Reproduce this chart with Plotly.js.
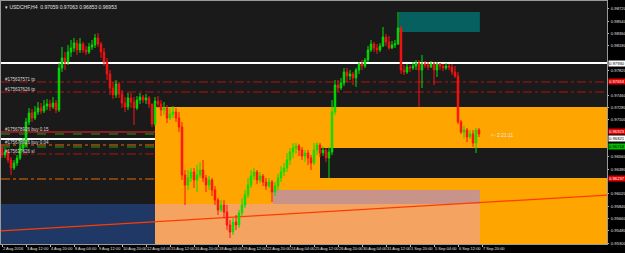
<!DOCTYPE html>
<html>
<head>
<meta charset="utf-8">
<script src="https://cdn.plot.ly/plotly-3.0.1.min.js"></script>
<style>html,body{margin:0;padding:0;background:#000;}#chart{width:625px;height:253px;}</style>
</head>
<body>
<div id="chart"></div>
<script>
// ---- data (USDCHF, H4) ----
const firstOpen = 0.96689;
const closes = [.96587,.96631,.96514,.96397,.96470,.96543,.96689,.96733,.97069,.97200,
 .97127,.97215,.97273,.97229,.97302,.97332,.97288,.97346,.97244,.97857,
 .98003,.97945,.98091,.98149,.98222,.98120,.98208,.98120,.98091,.98164,
 .98193,.98295,.98208,.98091,.97945,.97770,.97565,.97463,.97624,.97478,
 .97346,.97288,.97419,.97361,.97273,.97390,.97434,.97390,.97419,.97332,
 .97040,.97375,.97332,.97244,.97273,.97127,.97186,.97215,.97127,.96996,
 .96295,.96149,.96251,.96339,.96222,.96295,.96368,.96251,.96149,.96222,
 .96076,.95930,.95784,.95857,.95755,.95565,.95463,.95609,.95565,.95740,
 .95857,.96003,.96149,.96280,.96339,.96222,.96280,.96193,.96134,.96193,
 .96047,.96134,.96251,.96339,.96397,.96514,.96631,.96689,.96718,.96660,
 .96572,.96616,.96543,.96470,.96660,.96733,.96616,.96660,.96543,.96631,
 .97215,.97609,.97565,.97638,.97799,.97740,.97770,.97711,.97828,.97916,
 .97886,.97974,.98120,.98208,.98149,.98120,.98178,.98310,.98237,.98149,
 .98193,.98208,.98441,.97828,.97799,.97872,.97857,.97886,.97930,.97828,
 .97916,.97901,.97872,.97916,.97828,.97916,.97886,.97857,.97886,.97872,
 .97799,.97740,.97069,.96923,.96952,.96850,.96894,.96762,.96952,.96894];
const highs = [.96733,.96689,.96660,.96558,.96514,.96587,.96806,.96835,.97127,.97273,
 .97259,.97302,.97361,.97346,.97390,.97405,.97390,.97434,.97390,.97930,
 .98164,.98091,.98193,.98266,.98295,.98266,.98295,.98237,.98178,.98222,
 .98266,.98354,.98368,.98237,.98149,.98003,.97828,.97653,.97682,.97653,
 .97536,.97434,.97492,.97492,.97434,.97448,.97492,.97463,.97478,.97448,
 .97332,.97434,.97448,.97390,.97361,.97317,.97273,.97302,.97273,.97215,
 .97069,.96368,.96368,.96397,.96397,.96441,.96485,.96514,.96295,.96280,
 .96251,.96134,.95959,.95930,.95930,.95857,.95638,.95667,.95711,.95784,
 .95959,.96076,.96251,.96368,.96397,.96368,.96339,.96310,.96251,.96251,
 .96222,.96193,.96310,.96426,.96470,.96616,.96689,.96762,.96762,.96748,
 .96704,.96660,.96660,.96587,.96762,.96777,.96762,.96718,.96689,.96704,
 .97390,.97682,.97682,.97711,.97857,.97857,.97828,.97799,.97857,.97945,
 .97974,.98003,.98178,.98266,.98237,.98208,.98222,.98456,.98354,.98324,
 .98251,.98266,.98675,.98470,.97901,.97916,.97901,.97945,.97974,.97974,
 .98047,.97959,.97945,.97959,.97945,.97945,.97930,.97916,.97930,.97916,
 .97916,.97886,.97799,.97098,.97010,.96981,.96952,.96952,.96981,.96981];
const lows = [.96543,.96543,.96470,.96295,.96368,.96426,.96514,.96631,.96704,.97025,
 .97069,.97098,.97171,.97186,.97200,.97244,.97229,.97259,.97200,.97215,
 .97799,.97828,.97901,.98018,.98091,.98047,.98076,.98076,.98047,.98062,
 .98120,.98149,.98164,.98003,.97886,.97682,.97463,.97405,.97419,.97419,
 .97273,.97215,.97244,.97273,.97025,.97244,.97332,.97346,.97332,.97273,
 .96996,.97010,.97273,.97156,.97171,.97054,.97098,.97127,.97069,.96923,
 .96222,.95857,.96076,.96193,.96105,.96047,.96251,.96193,.96047,.96076,
 .95988,.95857,.95711,.95755,.95667,.95492,.95375,.95419,.95492,.95521,
 .95696,.95813,.95959,.96105,.96222,.96164,.96178,.96134,.96076,.96105,
 .95901,.95988,.96076,.96193,.96280,.96339,.96441,.96543,.96602,.96572,
 .96514,.96485,.96441,.96368,.96441,.96587,.96558,.96572,.96485,.96251,
 .96587,.97171,.97507,.97536,.97594,.97653,.97682,.97609,.97580,.97770,
 .97828,.97857,.97945,.98091,.98091,.98062,.98091,.98164,.98178,.98120,
 .98135,.98149,.98193,.97770,.97755,.97770,.97799,.97828,.97828,.97288,
 .97565,.97857,.97828,.97857,.97609,.97726,.97828,.97813,.97828,.97828,
 .97755,.97711,.97040,.96894,.96835,.96777,.96821,.96704,.96616,.96850];
const tickLabels = ["2 Aug 2016","3 Aug 12:00","4 Aug 20:00","8 Aug 04:00","9 Aug 12:00","10 Aug 20:00",
 "12 Aug 04:00","15 Aug 12:00","16 Aug 20:00","18 Aug 04:00","19 Aug 12:00","22 Aug 20:00","24 Aug 04:00",
 "25 Aug 12:00","26 Aug 20:00","30 Aug 04:00","31 Aug 12:00","1 Sep 20:00","5 Sep 04:00","6 Sep 12:00","7 Sep 20:00"];
const chartTitle = "USDCHF,H4  0.97059 0.97063 0.96853 0.96953";

// levels (prices) of drawn objects
const whiteLevels = [0.97930, 0.96821];
const redDashLevels = [0.97653, 0.97507, 0.96602];
const greenDashLevels = [0.96894, 0.96704];
const orangeDashLevels = [0.96733, 0.96237];
const redSolidLevel = 0.96923;
const orderLabels = [["#175637571 tp",0.97653],["#175637626 tp",0.97507],["#175678926 buy 0.15",0.96923],["#175678926 buy 0.04",0.96733],["#175637626 sl",0.96602]];
const axisTags = [["0.97930",0.97930,"#ffffff","#000"],["0.97653",0.97653,"#e00000","#fff"],["0.96923",0.96923,"#e00000","#fff"],
  ["0.96821",0.96821,"#ffffff","#000"],["0.96718",0.96718,"#00c000","#000"],["0.96237",0.96237,"#e00000","#fff"]];
// zones: [x0bar, x1bar, priceLow, priceHigh, color]
const yMin = 0.95288, yMax = 0.98835, xMin = -0.333, xMax = 201.667;
const zones = [
  [51, xMax, yMin, 0.97288, "#ffa500"],
  [106, xMax, 0.96251, 0.96689, "#1a1a1a"],
  [90.3, 159.3, 0.95872, 0.96076, "#c8948a"],
  [51, 159.3, yMin, 0.95872, "#f4a460"],
  [xMin, 51, yMin, 0.95872, "#1f3866"],
  [132.3, 159.3, 0.98383, 0.98675, "#066060"]
];
const trend = [[-1, 0.95477], [202, 0.96003]];
const countdown = ["<- 2:21:11", 162.3, 0.96879];
const yTick0 = 0.9530, yDtick = 0.0018;

// ---- build ----
const idx = closes.map((_, i) => i);
const opens = closes.map((c, i) => i === 0 ? firstOpen : closes[i - 1]);
const hi = highs.map((h, i) => Math.max(h, opens[i], closes[i]));
const lo = lows.map((l, i) => Math.min(l, opens[i], closes[i]));

// regular price ticks; the ones hidden behind a coloured price tag are left out
const yTicks = [];
for (let k = 0; yTick0 + k * yDtick <= yMax; k++) {
  const v = +(yTick0 + k * yDtick).toFixed(5);
  if (!axisTags.some(t => Math.abs(t[1] - v) < 0.00075)) yTicks.push(v);
}

const shapes = [];
zones.forEach(z => shapes.push({type:'rect', xref:'x', yref:'y', x0:z[0], x1:z[1], y0:z[2], y1:z[3],
  fillcolor:z[4], line:{width:0}, layer:'below'}));
shapes.push({type:'line', xref:'x', yref:'y', x0:trend[0][0], y0:trend[0][1], x1:trend[1][0], y1:trend[1][1],
  line:{color:'#ff3c00', width:1.3}, layer:'below'});
const hline = (p, color, dash, w) => ({type:'line', xref:'paper', yref:'y', x0:0, x1:1, y0:p, y1:p,
  line:{color:color, dash:dash, width:w}, layer:'below'});
redDashLevels.forEach(p => shapes.push(hline(p, '#b01414', 'dashdot', 1)));
greenDashLevels.forEach(p => shapes.push(hline(p, '#1fa01f', 'dash', 1)));
orangeDashLevels.forEach(p => shapes.push(hline(p, '#e86a00', 'dashdot', 1)));
shapes.push(hline(redSolidLevel, '#ff2020', 'solid', 1));
whiteLevels.forEach(p => shapes.push(hline(p, '#ffffff', 'solid', 2)));

const FONT = 'Liberation Sans Narrow, Liberation Sans, Arial';
const annotations = [];
annotations.push({xref:'paper', yref:'paper', x:0.004, y:0.995, xanchor:'left', yanchor:'top', showarrow:false,
  text:'\u25BE ' + chartTitle, font:{family:FONT, size:5, color:'#e0e0e0'}});
orderLabels.forEach(o => annotations.push({xref:'paper', yref:'y', x:0.004, y:o[1], xanchor:'left', yanchor:'bottom',
  yshift:-2, showarrow:false, text:o[0], font:{family:FONT, size:4.5, color:'#d8d8d8'}}));
axisTags.forEach(t => annotations.push({xref:'paper', yref:'y', x:1, xshift:1, y:t[1], xanchor:'left', yanchor:'middle',
  showarrow:false, text:t[0], bgcolor:t[2], borderpad:0, font:{family:FONT, size:4.2, color:t[3]}}));
annotations.push({xref:'x', yref:'y', x:countdown[1], y:countdown[2], xanchor:'left', yanchor:'middle', showarrow:false,
  text:countdown[0], font:{family:FONT, size:5, color:'#e8e8e8'}});

const trace = {
  type:'candlestick', x:idx, open:opens, high:hi, low:lo, close:closes,
  increasing:{line:{color:'#00e000', width:1}, fillcolor:'#00e000'},
  decreasing:{line:{color:'#ff1010', width:1}, fillcolor:'#ff1010'},
  whiskerwidth:0, hoverinfo:'skip', showlegend:false
};

const layout = {
  width:625, height:253,
  margin:{l:1, r:18, t:1, b:9, pad:0},
  paper_bgcolor:'#000000', plot_bgcolor:'#1a1a1a',
  showlegend:false,
  xaxis:{range:[xMin, xMax], rangeslider:{visible:false}, showgrid:false, zeroline:false,
    tickmode:'array', tickvals:tickLabels.map((_, k) => k*8), ticktext:tickLabels,
    ticks:'outside', ticklen:2, tickcolor:'#bbbbbb', ticklabelposition:'outside right', tickangle:0,
    automargin:false, ticklabeloverflow:'allow',
    tickfont:{family:FONT, size:4, color:'#e0e0e0'},
    showline:true, linecolor:'#9a9a9a', linewidth:1, mirror:true, fixedrange:true},
  yaxis:{range:[yMin, yMax], side:'right', showgrid:false, zeroline:false,
    tickmode:'array', tickvals:yTicks, tickformat:'.5f', ticks:'outside', ticklen:1, tickcolor:'#bbbbbb',
    ticklabelstandoff:1, automargin:false, ticklabeloverflow:'allow',
    tickfont:{family:FONT, size:4.2, color:'#e0e0e0'},
    showline:true, linecolor:'#9a9a9a', linewidth:1, mirror:true, fixedrange:true},
  shapes:shapes, annotations:annotations
};

Plotly.newPlot('chart', [trace], layout, {staticPlot:true, displayModeBar:false});
</script>
</body>
</html>
